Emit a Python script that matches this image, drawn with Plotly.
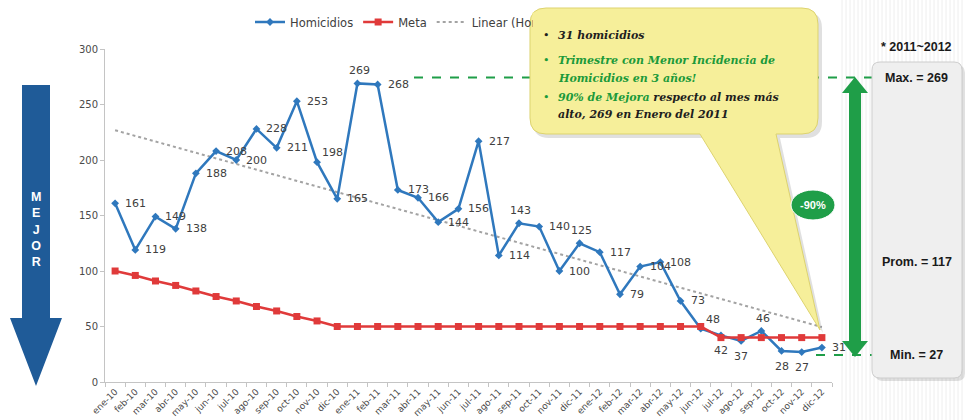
import numpy as np
import plotly.graph_objects as go

# ---------------- data ----------------
meses = ["ene-10", "feb-10", "mar-10", "abr-10", "may-10", "jun-10",
         "jul-10", "ago-10", "sep-10", "oct-10", "nov-10", "dic-10",
         "ene-11", "feb-11", "mar-11", "abr-11", "may-11", "jun-11",
         "jul-11", "ago-11", "sep-11", "oct-11", "nov-11", "dic-11",
         "ene-12", "feb-12", "mar-12", "abr-12", "may-12", "jun-12",
         "jul-12", "ago-12", "sep-12", "oct-12", "nov-12", "dic-12"]

homicidios = [161, 119, 149, 138, 188, 208, 200, 228, 211, 253, 198, 165,
              269, 268, 173, 166, 144, 156, 217, 114, 143, 140, 100, 125,
              117, 79, 104, 108, 73, 48, 42, 37, 46, 28, 27, 31]

meta = [100, 96, 91, 87, 82, 77, 73, 68, 64, 59, 55, 50,
        50, 50, 50, 50, 50, 50, 50, 50, 50, 50, 50, 50,
        50, 50, 50, 50, 50, 50, 40, 40, 40, 40, 40, 40]

# where each value label sits relative to its point
pos_etiquetas = ["r"] * 10 + ["tr", "r", "t"] + ["r"] * 7 + ["t", "r", "r", "t"] + \
                ["r"] * 5 + ["tr", "b", "b", "t", "b", "b", "r"]

y_ticks = [0, 50, 100, 150, 200, 250, 300]

# ---------------- geometry helpers (pixel -> paper) ----------------
W, H = 965, 420
L, R, T, B = 105, 133, 49, 38
PW, PH = W - L - R, H - T - B


def px(x):
    return (x - L) / PW


def py(y):
    return (H - B - y) / PH


def path(cmds):
    out = []
    for c in cmds:
        if isinstance(c, str):
            out.append(c)
        else:
            out.append(f"{px(c[0]):.5f},{py(c[1]):.5f}")
    return " ".join(out)


def rounded_box(x0, y0, x1, y1, r, pointer=None):
    cmds = ["M", (x0 + r, y0), "L", (x1 - r, y0), "Q", (x1, y0), (x1, y0 + r),
            "L", (x1, y1 - r), "Q", (x1, y1), (x1 - r, y1)]
    if pointer:
        xa, xb, tip = pointer
        cmds += ["L", (xb, y1), "L", tip, "L", (xa, y1)]
    cmds += ["L", (x0 + r, y1), "Q", (x0, y1), (x0, y1 - r),
             "L", (x0, y0 + r), "Q", (x0, y0), (x0 + r, y0), "Z"]
    return path(cmds)


# ---------------- traces ----------------
idx = np.arange(len(homicidios))
pend, inter = np.polyfit(idx, homicidios, 1)
tendencia = inter + pend * idx

AZUL = "#2f78bd"
ROJO = "#e03a3a"
VERDE = "#1f9e48"

fig = go.Figure()
fig.add_trace(go.Scatter(
    x=meses, y=tendencia, mode="lines", name="Linear (Homicidios)",
    line=dict(color="#a3a3a3", width=2, dash="dot"), legendrank=3))
fig.add_trace(go.Scatter(
    x=meses, y=homicidios, mode="lines+markers", name="Homicidios",
    line=dict(color=AZUL, width=2.5),
    marker=dict(symbol="diamond", size=6, color=AZUL), legendrank=1))
fig.add_trace(go.Scatter(
    x=meses, y=meta, mode="lines+markers", name="Meta",
    line=dict(color=ROJO, width=2.5),
    marker=dict(symbol="square", size=7, color=ROJO), legendrank=2))

# ---------------- decorations ----------------
shapes = []

# striped background on the right-hand side
for xs in range(842, 966, 4):
    shapes.append(dict(type="line", xref="paper", yref="paper",
                       x0=px(xs), x1=px(xs), y0=py(0), y1=py(H),
                       line=dict(color="#eeeeee", width=1), layer="below"))

# "MEJOR" down arrow
shapes.append(dict(type="path", xref="paper", yref="paper",
                   path=path(["M", (22, 85), "L", (50, 85), "L", (50, 318),
                              "L", (62, 318), "L", (36, 386), "L", (10, 318),
                              "L", (22, 318), "Z"]),
                   fillcolor="#1f5b98", line=dict(width=0)))

# green dashed reference lines (max / min)
shapes.append(dict(type="line", xref="paper", yref="paper",
                   x0=px(414), x1=px(880), y0=py(77.5), y1=py(77.5),
                   line=dict(color=VERDE, width=2, dash="dash")))
shapes.append(dict(type="line", xref="paper", yref="paper",
                   x0=px(816), x1=px(880), y0=py(355), y1=py(355),
                   line=dict(color=VERDE, width=2, dash="dash")))

# callout with pointer
shapes.append(dict(type="path", xref="paper", yref="paper",
                   path=rounded_box(533, 12, 822, 138, 16,
                                    (704, 780, (823, 333))),
                   fillcolor="rgba(0,0,0,0.12)", line=dict(width=0)))
shapes.append(dict(type="path", xref="paper", yref="paper",
                   path=rounded_box(530, 8, 818, 134, 16,
                                    (700, 776, (820, 330))),
                   fillcolor="#f6ef9a", line=dict(color="#ddd36f", width=1)))

# double-headed green arrow
shapes.append(dict(type="path", xref="paper", yref="paper",
                   path=path(["M", (855, 77), "L", (868, 93), "L", (861, 93),
                              "L", (861, 341), "L", (868, 341), "L", (855, 357),
                              "L", (842, 341), "L", (849, 341), "L", (849, 93),
                              "L", (842, 93), "Z"]),
                   fillcolor=VERDE, line=dict(width=0)))

# -90% badge
shapes.append(dict(type="circle", xref="paper", yref="paper",
                   x0=px(791), x1=px(835), y0=py(220), y1=py(190),
                   fillcolor=VERDE, line=dict(color="#ffffff", width=1)))

# summary panel
shapes.append(dict(type="path", xref="paper", yref="paper",
                   path=rounded_box(875, 65, 965, 381, 8),
                   fillcolor="rgba(0,0,0,0.12)", line=dict(width=0)))
shapes.append(dict(type="path", xref="paper", yref="paper",
                   path=rounded_box(872, 62, 962, 378, 8),
                   fillcolor="#efefef", line=dict(color="#cdcdcd", width=1)))

annotations = []

# value labels of the Homicidios series
offsets = {
    "r": dict(xanchor="left", yanchor="middle", xshift=8, yshift=0),
    "tr": dict(xanchor="left", yanchor="bottom", xshift=3, yshift=1),
    "t": dict(xanchor="center", yanchor="bottom", xshift=2, yshift=4),
    "b": dict(xanchor="center", yanchor="top", xshift=0, yshift=-7),
}
for mes, val, pos in zip(meses, homicidios, pos_etiquetas):
    annotations.append(dict(x=mes, y=val, xref="x", yref="y", text=str(val),
                            showarrow=False,
                            font=dict(family="DejaVu Sans", size=11,
                                      color="#404040"),
                            **offsets[pos]))

# legend cover so the callout sits on top of the legend row
annotations.append(dict(xref="paper", yref="paper", x=px(532), y=py(22),
                        xanchor="left", yanchor="middle", text=" ",
                        width=110, height=18, bgcolor="#f6ef9a",
                        showarrow=False, borderpad=0))

annotations.append(dict(xref="paper", yref="paper", x=px(36), y=py(229),
                        xanchor="center", yanchor="middle",
                        text="<b>M<br>E<br>J<br>O<br>R</b>", showarrow=False,
                        font=dict(family="Liberation Sans", size=12.5,
                                  color="#ffffff")))

NEGRO = "#1e1e1e"
VERDE_T = "#1c9a3a"
callout = [
    (35, NEGRO, "31 homicidios", True),
    (61, VERDE_T, "Trimestre con Menor Incidencia de", True),
    (78, VERDE_T, "Homicidios en 3 años!", False),
    (97, VERDE_T, f"90% de Mejora<span style='color:{NEGRO}'> respecto al mes más</span>", True),
    (114, NEGRO, "alto, 269 en Enero del 2011", False),
]
for yy, col, txt, bullet in callout:
    if bullet:
        annotations.append(dict(xref="paper", yref="paper", x=px(546), y=py(yy),
                                xanchor="center", yanchor="middle", text="•",
                                showarrow=False,
                                font=dict(family="DejaVu Serif", size=11, color=col)))
    annotations.append(dict(xref="paper", yref="paper", x=px(556), y=py(yy),
                            xanchor="left", yanchor="middle",
                            text=f"<b><i>{txt}</i></b>", showarrow=False,
                            font=dict(family="DejaVu Serif", size=11, color=col)))

annotations.append(dict(xref="paper", yref="paper", x=px(813), y=py(205),
                        xanchor="center", yanchor="middle", text="<b>-90%</b>",
                        showarrow=False,
                        font=dict(family="Liberation Sans", size=11, color="#ffffff")))

panel = [(47, "* 2011~2012"), (78, "Max. = 269"), (262, "Prom. = 117"),
         (355, "Min. = 27")]
for yy, txt in panel:
    annotations.append(dict(xref="paper", yref="paper", x=px(917), y=py(yy),
                            xanchor="center", yanchor="middle",
                            text=f"<b>{txt}</b>", showarrow=False,
                            font=dict(family="Liberation Sans", size=12.5,
                                      color="#1a1a1a")))

fig.update_layout(
    width=W, height=H,
    margin=dict(l=L, r=R, t=T, b=B, autoexpand=False),
    paper_bgcolor="#ffffff", plot_bgcolor="#ffffff",
    showlegend=True,
    legend=dict(orientation="h", x=px(250), y=py(22), xanchor="left",
                yanchor="middle", font=dict(family="DejaVu Sans", size=11.5,
                                            color="#404040"),
                itemwidth=30, bgcolor="rgba(0,0,0,0)", traceorder="normal"),
    shapes=shapes, annotations=annotations,
    xaxis=dict(type="category", categoryorder="array", categoryarray=meses,
               showline=True, linecolor="#c4c4c4", linewidth=1,
               ticks="outside", tickson="boundaries", ticklen=4,
               tickcolor="#c4c4c4", tickangle=-45, showgrid=False,
               tickfont=dict(family="DejaVu Sans", size=9, color="#4a4a4a"),
               range=[-0.5, 35.5]),
    yaxis=dict(range=[0, 300], tickvals=y_ticks, showline=True,
               linecolor="#c4c4c4", linewidth=1, ticks="outside", ticklen=4,
               tickcolor="#c4c4c4", showgrid=False, zeroline=False,
               tickfont=dict(family="DejaVu Sans", size=10, color="#4a4a4a")),
)

fig.write_html("out.html")
